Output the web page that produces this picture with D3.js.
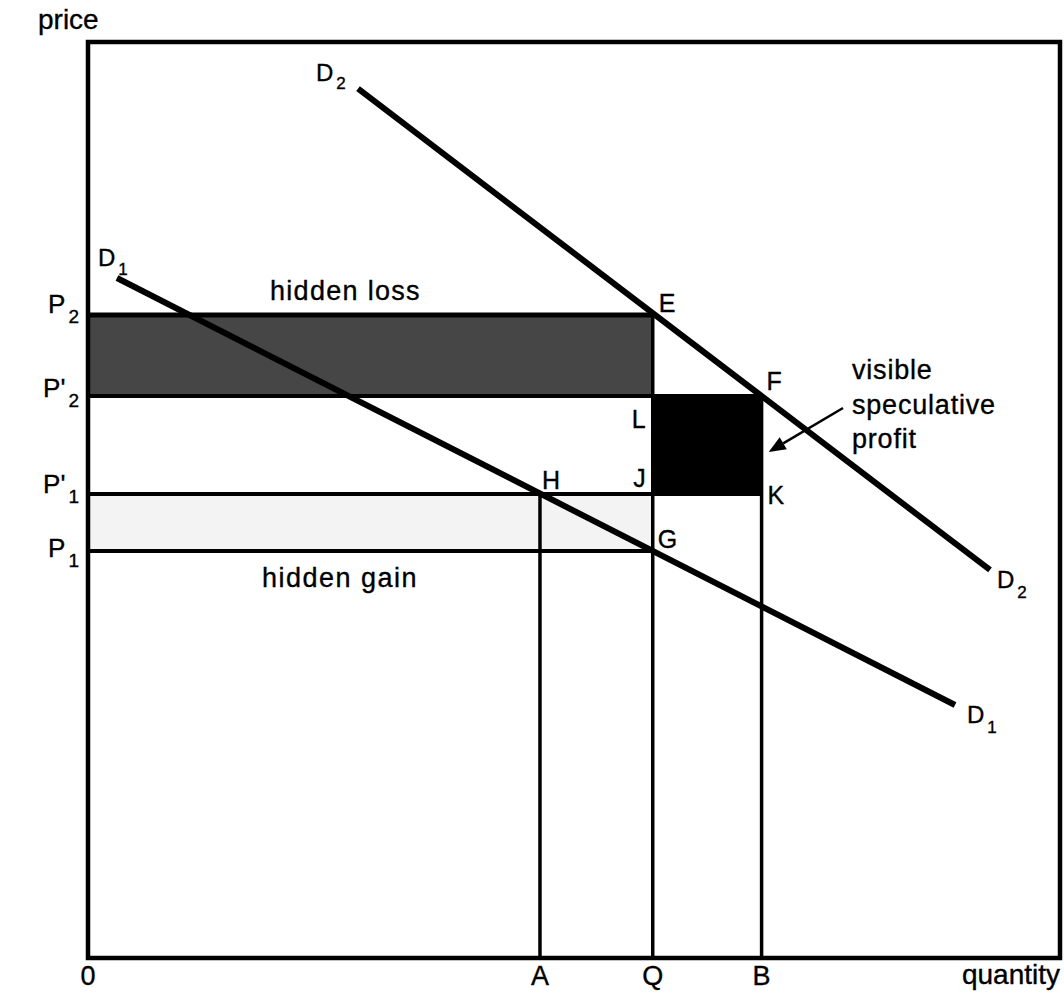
<!DOCTYPE html>
<html>
<head>
<meta charset="utf-8">
<script src="https://cdn.jsdelivr.net/npm/d3@7"></script>
<style>
  html, body { margin: 0; padding: 0; background: #fff; }
  svg { display: block; }
  text { font-family: "Liberation Sans", Arial, Helvetica, sans-serif; fill: #000; stroke: #000; stroke-width: 0.35px; }
</style>
</head>
<body>
<svg id="chart" width="1064" height="993"></svg>
<script>
// ---- data (domain units: 0..100 on both axes) ----
const quantities = [
  { key: "A", q: 46.5 },
  { key: "Q", q: 58.1 },
  { key: "B", q: 69.3 }
];
const prices = [
  { key: "P2",  label: "P", prime: false, sub: "2", p: 70.2 },
  { key: "P'2", label: "P", prime: true,  sub: "2", p: 61.35 },
  { key: "P'1", label: "P", prime: true,  sub: "1", p: 50.66 },
  { key: "P1",  label: "P", prime: false, sub: "1", p: 44.43 }
];
const demand1 = [ { q: 2.98, p: 74.24 }, { q: 89.2, p: 27.62 } ];
const demand2 = [ { q: 27.78, p: 94.9 }, { q: 92.8, p: 42.36 } ];
const axisLabels = { y: "price", x: "quantity", origin: "0" };
const areaLabels = { loss: "hidden loss", gain: "hidden gain", profit: ["visible", "speculative", "profit"] };

// ---- layout ----
const svg = d3.select("#chart");
const mLeft = 88, mRight = 1060, mTop = 42, mBottom = 958;
const x = d3.scaleLinear().domain([0, 100]).range([mLeft, mRight]);
const y = d3.scaleLinear().domain([0, 100]).range([mBottom, mTop]);

const Q = k => quantities.find(d => d.key === k).q;
const P = k => prices.find(d => d.key === k).p;

// ---- shaded areas ----
svg.append("rect")
  .attr("x", x(0)).attr("y", y(P("P2")))
  .attr("width", x(Q("Q")) - x(0)).attr("height", y(P("P'2")) - y(P("P2")))
  .attr("fill", "#464646");
svg.append("rect")
  .attr("x", x(0)).attr("y", y(P("P'1")))
  .attr("width", x(Q("Q")) - x(0)).attr("height", y(P("P1")) - y(P("P'1")))
  .attr("fill", "#f3f3f3");
svg.append("rect")
  .attr("x", x(Q("Q"))).attr("y", y(P("P'2")))
  .attr("width", x(Q("B")) - x(Q("Q"))).attr("height", y(P("P'1")) - y(P("P'2")))
  .attr("fill", "#000");

// ---- guide lines ----
const hLines = [
  { p: "P2",  to: "Q", w: 5 },
  { p: "P'2", to: "B", w: 4 },
  { p: "P'1", to: "B", w: 4 },
  { p: "P1",  to: "Q", w: 4 }
];
svg.selectAll("line.h").data(hLines).enter().append("line")
  .attr("x1", x(0)).attr("x2", d => x(Q(d.to)))
  .attr("y1", d => y(P(d.p))).attr("y2", d => y(P(d.p)))
  .attr("stroke", "#000").attr("stroke-width", d => d.w);

const vLines = [
  { q: "A", from: "P'1" },
  { q: "Q", from: "P2" },
  { q: "B", from: "P'2" }
];
svg.selectAll("line.v").data(vLines).enter().append("line")
  .attr("x1", d => x(Q(d.q))).attr("x2", d => x(Q(d.q)))
  .attr("y1", d => y(P(d.from))).attr("y2", y(0))
  .attr("stroke", "#000").attr("stroke-width", 3.5);

// ---- demand curves ----
const line = d3.line().x(d => x(d.q)).y(d => y(d.p));
[demand1, demand2].forEach(dd => {
  svg.append("path").attr("d", line(dd))
    .attr("fill", "none").attr("stroke", "#000").attr("stroke-width", 6);
});

// ---- frame ----
svg.append("rect")
  .attr("x", mLeft).attr("y", mTop).attr("width", mRight - mLeft).attr("height", mBottom - mTop)
  .attr("fill", "none").attr("stroke", "#000").attr("stroke-width", 4.5);

// ---- text helpers ----
function subLabel(xp, yp, main, sub, size, subSize, anchor, dy) {
  const t = svg.append("text").attr("x", xp).attr("y", yp)
    .attr("text-anchor", anchor || "start").style("font-size", size + "px");
  t.append("tspan").text(main);
  t.append("tspan").attr("dx", 3).attr("dy", dy).style("font-size", subSize + "px").text(sub);
  return t;
}

// curve labels
subLabel(x(demand2[0].q) - 42, y(demand2[0].p) - 8, "D", "2", 24, 17, "start", 8);
subLabel(x(demand2[1].q) + 7, y(demand2[1].p) + 18, "D", "2", 24, 17, "start", 10);
subLabel(x(demand1[0].q) - 19, y(demand1[0].p) - 12, "D", "1", 24, 17, "start", 9);
subLabel(x(demand1[1].q) + 12, y(demand1[1].p) + 18, "D", "1", 24, 17, "start", 10);

// price labels on y axis
const pOffsets = { "P2": -2, "P'2": 1, "P'1": -1, "P1": 6 };
prices.forEach(d => {
  subLabel(79, y(d.p) + pOffsets[d.key], d.label + (d.prime ? "'" : ""), d.sub, 26, 19, "end", 10);
});

// quantity labels on x axis
svg.selectAll("text.q").data(quantities).enter().append("text")
  .attr("x", d => x(d.q)).attr("y", 985).attr("text-anchor", "middle")
  .style("font-size", "27px").text(d => d.key);
svg.append("text").attr("x", x(0)).attr("y", 985).attr("text-anchor", "middle")
  .style("font-size", "27px").text(axisLabels.origin);
svg.append("text").attr("x", mRight).attr("y", 984).attr("text-anchor", "end")
  .style("font-size", "28px").text(axisLabels.x);
svg.append("text").attr("x", 38).attr("y", 29)
  .style("font-size", "28px").text(axisLabels.y);

// point labels
const points = [
  { t: "E", q: "Q", p: "P2",  dx: 6,  dy: -3, a: "start" },
  { t: "F", q: "B", p: "P'2", dx: 5,  dy: -6, a: "start" },
  { t: "L", q: "Q", p: "P'2", dx: -7, dy: 32, a: "end" },
  { t: "J", q: "Q", p: "P'1", dx: -7, dy: -7, a: "end" },
  { t: "H", q: "A", p: "P'1", dx: 2,  dy: -5, a: "start" },
  { t: "G", q: "Q", p: "P1",  dx: 5,  dy: -3, a: "start" },
  { t: "K", q: "B", p: "P'1", dx: 6,  dy: 10, a: "start" }
];
svg.selectAll("text.pt").data(points).enter().append("text")
  .attr("x", d => x(Q(d.q)) + d.dx).attr("y", d => y(P(d.p)) + d.dy)
  .attr("text-anchor", d => d.a).style("font-size", "25px").text(d => d.t);

// area labels
svg.append("text").attr("x", 270).attr("y", y(P("P2")) - 15)
  .style("font-size", "27px").style("letter-spacing", "1.3px").text(areaLabels.loss);
svg.append("text").attr("x", 262).attr("y", y(P("P1")) + 36)
  .style("font-size", "27px").style("letter-spacing", "1.5px").text(areaLabels.gain);
areaLabels.profit.forEach((s, i) => {
  svg.append("text").attr("x", 852).attr("y", 379 + i * 34.5)
    .style("font-size", "27px").style("letter-spacing", "0.8px").text(s);
});

// arrow to the profit box
const tip = [x(Q("B")) + 7, y(P("P'1")) - 42];
const tail = [843, 408];
const ang = Math.atan2(tip[1] - tail[1], tip[0] - tail[0]);
const hl = 17, hw = 7;
const base = [tip[0] - hl * Math.cos(ang), tip[1] - hl * Math.sin(ang)];
svg.append("line")
  .attr("x1", tail[0]).attr("y1", tail[1]).attr("x2", base[0]).attr("y2", base[1])
  .attr("stroke", "#000").attr("stroke-width", 2.5);
svg.append("path")
  .attr("d", d3.line()([
    tip,
    [base[0] + hw * Math.sin(ang), base[1] - hw * Math.cos(ang)],
    [base[0] - hw * Math.sin(ang), base[1] + hw * Math.cos(ang)]
  ]) + "Z")
  .attr("fill", "#000");
</script>
</body>
</html>
